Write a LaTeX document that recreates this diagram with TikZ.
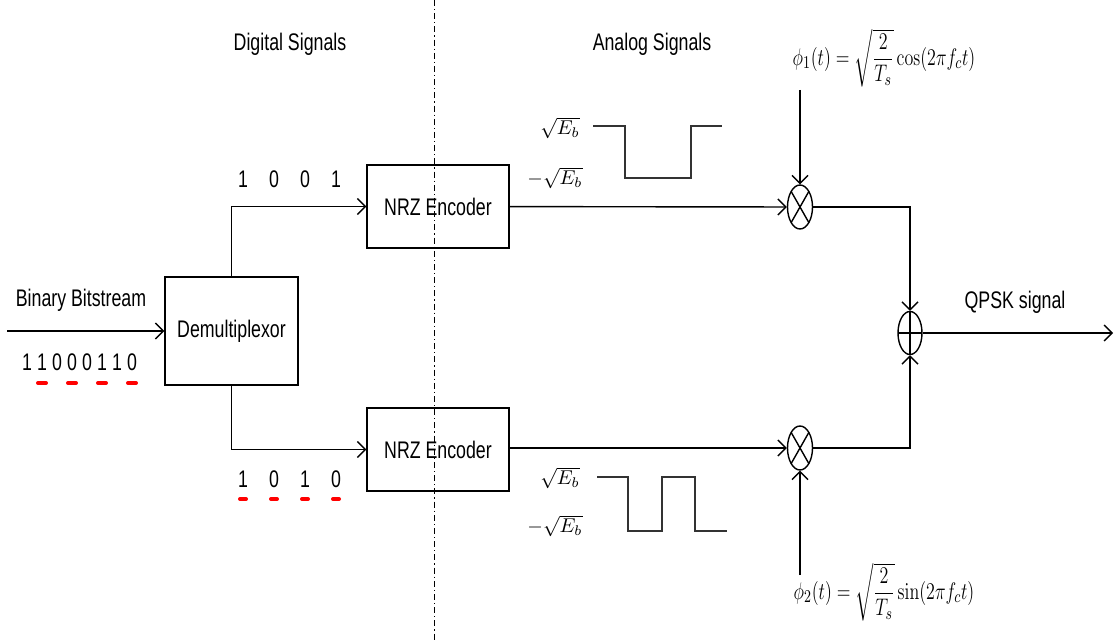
\documentclass[tikz,border=0pt]{standalone}
\usepackage{amsmath}
\usepackage[no-math]{fontspec}
\setmainfont{Liberation Sans}[FakeStretch=0.74]
\usepackage{tikz}
\usetikzlibrary{shapes.geometric, arrows.meta, positioning}

\begin{document}
\begin{tikzpicture}[x=0.5pt, y=-0.5pt, line width=0.7pt, font=\fontsize{12}{14}\selectfont,
    >={Straight Barb[length=4pt,width=8pt]},
    block/.style={rectangle, draw, minimum width=71pt, minimum height=41.5pt, inner sep=0pt},
    mixer/.style={ellipse, draw, minimum width=12.5pt, minimum height=22pt, inner sep=0pt,
        path picture={\draw (path picture bounding box.north west) -- (path picture bounding box.south east)
                            (path picture bounding box.north east) -- (path picture bounding box.south west);}},
    adder/.style={ellipse, draw, minimum width=12pt, minimum height=21.5pt, inner sep=0pt,
        path picture={\draw (path picture bounding box.north) -- (path picture bounding box.south)
                            (path picture bounding box.west) -- (path picture bounding box.east);}},
    bit/.style={inner sep=0pt},
    reddash/.style={red, line width=2pt, line cap=round},
    wave/.style={line width=0.6pt, black!80},
    level/.style={font=\fontsize{10}{12}\selectfont, inner sep=0pt},
    carrier/.style={font=\fontsize{13}{15}\selectfont, inner sep=0pt}]
    \useasboundingbox (0,0) rectangle (1115,642);

    % divider between the two halves
    \draw [dash pattern=on 3pt off 1.5pt on 0.6pt off 1.5pt, line width=0.4pt] (434,0) -- (434,642);
    \node (digital) at (290,44) {Digital Signals};
    \node (analog) at (652,44) {Analog Signals};

    % input
    \node [block, minimum width=66.5pt, minimum height=54pt] (demux) at (231.5,331) {Demultiplexor};
    \coordinate (in) at (7,331);
    \draw [->] (in) -- (demux);
    \node (label) at (81,300) {Binary Bitstream};
    \foreach \b [count=\i] in {1,1,0,0,0,1,1,0} {
        \node [bit] (s\i) at ({12+15*\i},362) {\b};
        \ifodd\i\else
            \draw [reddash] ([xshift=-2pt, yshift=-10.5pt]s\i.center) -- ([xshift=2pt, yshift=-10.5pt]s\i.center);
        \fi
    }

    % encoders
    \node [block] (nrz1) at (438,206.5) {NRZ Encoder};
    \node [block] (nrz2) at (438,449.5) {NRZ Encoder};
    \draw [->] (demux.north) |- (nrz1);
    \draw [->] (demux.south) |- (nrz2);
    \foreach \b [count=\i] in {1,0,0,1}
        \node [bit] (u\i) at ({212+31*\i},179) {\b};
    \foreach \b [count=\i] in {1,0,1,0} {
        \node [bit] (l\i) at ({212+31*\i},479) {\b};
        \draw [reddash] ([xshift=-1.5pt, yshift=-10pt]l\i.center) -- ([xshift=1.5pt, yshift=-10pt]l\i.center);
    }

    % waveforms
    \node [level] (hi1) at (560,128) {$\sqrt{E_b}$};
    \node [level] (lo1) at (555,178) {$-\sqrt{E_b}$};
    \draw [wave] (593,126) -- (625,126) -- (625,178) -- (691,178) -- (691,126) -- (722,126);
    \node [level] (hi2) at (560,478) {$\sqrt{E_b}$};
    \node [level] (lo2) at (555,526) {$-\sqrt{E_b}$};
    \draw [wave] (597,477) -- (628,477) -- (628,531) -- (662,531) -- (662,477) -- (695,477) -- (695,531) -- (727,531);

    % mixers and adder
    \node [mixer] (mul1) at (800,207) {};
    \node [mixer] (mul2) at (800,448) {};
    \node [adder] (add) at (910,333) {};
    \draw [->] (nrz1) -- (mul1);
    \draw [->] (nrz2.east |- mul2) -- (mul2);
    \draw [->] (mul1.east) -| (add.north);
    \draw [->] (mul2.east) -| (add.south);
    \coordinate (out) at (1113,333);
    \draw [->] (add.east) -- (out);
    \node (qpsk) at (1015,302) {QPSK signal};

    % carriers
    \node [carrier] (phi1) at (884,58) {\scalebox{0.75}[1]{$\phi_1(t)=\sqrt{\dfrac{2}{T_s}}\cos(2\pi f_c t)$}};
    \node [carrier] (phi2) at (884,592) {\scalebox{0.75}[1]{$\phi_2(t)=\sqrt{\dfrac{2}{T_s}}\sin(2\pi f_c t)$}};
    \coordinate (p1) at (800,90);
    \coordinate (p2) at (800,575);
    \draw [->] (p1) -- (mul1);
    \draw [->] (p2) -- (mul2);
\end{tikzpicture}
\end{document}
